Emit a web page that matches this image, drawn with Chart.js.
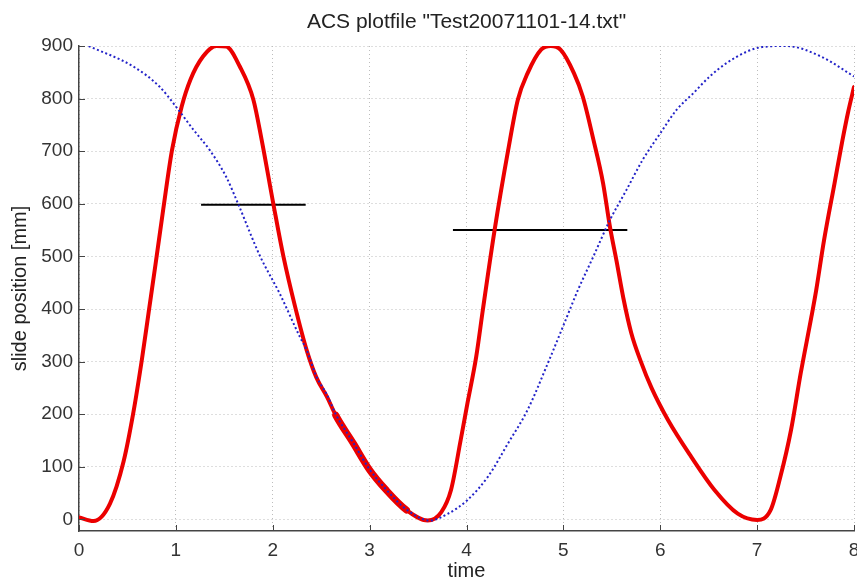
<!DOCTYPE html>
<html>
<head>
<meta charset="utf-8">
<script src="https://cdn.jsdelivr.net/npm/chart.js@4"></script>
<style>
  html, body { margin: 0; padding: 0; background: #fff; }
  #wrap { width: 857px; height: 581px; }
</style>
</head>
<body>
<div id="wrap"><canvas id="plotChart" width="857" height="581"></canvas></div>
<script>
// slide position
const redTime = [0, 0.15, 0.32, 0.46, 0.56, 0.65, 0.72, 0.79, 0.87, 0.96, 1.06, 1.15, 1.28, 1.42, 1.52,
    1.66, 1.80, 1.885, 2.005, 2.11, 2.23, 2.35, 2.45, 2.56, 2.65, 2.83, 3.0, 3.17, 3.38, 3.6, 3.74, 3.84, 3.94,
    4.01, 4.10, 4.17, 4.29, 4.43, 4.53, 4.63, 4.77, 4.87, 4.97, 5.11, 5.2, 5.31, 5.41, 5.48, 5.55, 5.62, 5.70,
    5.80, 5.91, 6.08, 6.32, 6.56, 6.80, 7.0, 7.14, 7.24, 7.35, 7.45, 7.56, 7.61, 7.69, 7.80, 7.88, 7.94, 8.0];
const redPos = [4, -3, 30, 110, 202, 305, 395, 485, 590, 702, 785, 836, 880, 900, 899,
    861, 798, 722, 601, 500, 405, 322, 270, 233, 198, 145, 94, 56, 18, -2, 14, 56, 151,
    221, 309, 400, 550, 702, 798, 848, 893, 900, 893, 848, 804, 722, 639, 557, 490, 420, 355,
    300, 250, 189, 119, 56, 11, -1, 18, 81, 170, 278, 385, 436, 530, 640, 720, 775, 822];

const blueTime = [0.1, 0.56, 0.83, 1.0, 1.18, 1.35, 1.52, 1.64, 1.87, 2.07, 2.28, 2.35, 2.45, 2.56, 2.65,
    2.83, 3.0, 3.17, 3.38, 3.62, 3.81, 4.01, 4.22, 4.43, 4.63, 4.84, 5.01, 5.15, 5.31, 5.48, 5.65, 5.82,
    6.0, 6.17, 6.34, 6.51, 6.68, 6.89, 7.05, 7.3, 7.66, 8.0];
const bluePos = [900, 861, 823, 785, 741, 702, 651, 601, 500, 430, 347, 322, 272, 237, 200,
    146, 95, 57, 19, -2, 11, 37, 81, 145, 208, 297, 373, 436, 500, 569, 626, 684,
    734, 779, 810, 842, 867, 889, 898, 900, 880, 842];

// horizontal marker lines
const mark1Time = [1.26, 2.34];
const mark1Pos = [598, 598];
const mark2Time = [3.86, 5.66];
const mark2Pos = [550, 550];

const xTicks = [0, 1, 2, 3, 4, 5, 6, 7, 8];
const yTicks = [0, 100, 200, 300, 400, 500, 600, 700, 800, 900];

const titleText = 'ACS plotfile "Test20071101-14.txt"';
const xLabel = 'time';
const yLabel = 'slide position [mm]';

function toPoints(xs, ys) {
    return xs.map((x, i) => ({ x: x, y: ys[i] }));
}

const fontFamily = '"Liberation Sans", Arial, Helvetica, sans-serif';
const axisColor = '#444444';

// title centred over the plot area + small inward tick marks
const plotExtras = {
    id: 'plotExtras',
    afterDraw(chart) {
        const ctx = chart.ctx;
        const area = chart.chartArea;
        const xs = chart.scales.x;
        const ys = chart.scales.y;
        ctx.save();
        ctx.strokeStyle = axisColor;
        ctx.lineWidth = 1;
        ctx.beginPath();
        xTicks.forEach(v => {
            const px = Math.round(xs.getPixelForValue(v)) + 0.5;
            ctx.moveTo(px, area.bottom);
            ctx.lineTo(px, area.bottom - 6);
        });
        yTicks.forEach(v => {
            const py = Math.round(ys.getPixelForValue(v)) + 0.5;
            ctx.moveTo(area.left, py);
            ctx.lineTo(area.left + 6, py);
        });
        ctx.stroke();

        ctx.fillStyle = '#222';
        ctx.font = '21px ' + fontFamily;
        ctx.textAlign = 'center';
        ctx.textBaseline = 'middle';
        ctx.fillText(titleText, (area.left + area.right) / 2, 22);
        ctx.restore();
    }
};

const gridOpts = { color: '#bdbdbd', lineWidth: 1, drawTicks: false, tickLength: 0 };
const borderOpts = { display: true, color: axisColor, width: 1.5, dash: [1, 3] };

new Chart(document.getElementById('plotChart').getContext('2d'), {
    type: 'line',
    data: {
        datasets: [
            {
                label: 'blue',
                data: toPoints(blueTime, bluePos),
                borderColor: 'rgb(35, 35, 200)',
                borderWidth: 2,
                borderDash: [2, 2.5],
                pointRadius: 0,
                cubicInterpolationMode: 'monotone',
                fill: false
            },
            {
                label: 'red',
                data: toPoints(redTime, redPos),
                borderColor: 'rgb(235, 0, 0)',
                borderWidth: 4,
                borderCapStyle: 'round',
                borderJoinStyle: 'round',
                pointRadius: 0,
                cubicInterpolationMode: 'monotone',
                fill: false,
                segment: {
                    borderWidth: c => (c.p0.parsed.x >= 2.6 && c.p1.parsed.x <= 3.4) ? 7 : 4
                }
            },
            {
                label: 'mark1',
                data: toPoints(mark1Time, mark1Pos),
                borderColor: '#000',
                borderWidth: 2,
                pointRadius: 0
            },
            {
                label: 'mark2',
                data: toPoints(mark2Time, mark2Pos),
                borderColor: '#000',
                borderWidth: 2,
                pointRadius: 0
            }
        ]
    },
    options: {
        responsive: false,
        animation: false,
        events: [],
        layout: { padding: { top: 46, right: 3, left: 0, bottom: 0 } },
        plugins: {
            legend: { display: false },
            tooltip: { enabled: false },
            title: { display: false }
        },
        scales: {
            x: {
                type: 'linear',
                min: 0,
                max: 8,
                afterBuildTicks: s => { s.ticks = xTicks.map(v => ({ value: v })); },
                afterFit: s => { s.height = 50; s.paddingLeft = 0; s.paddingRight = 0; },
                grid: gridOpts,
                border: borderOpts,
                ticks: {
                    color: '#333',
                    padding: 8,
                    maxRotation: 0,
                    font: { family: fontFamily, size: 19 }
                },
                title: {
                    display: true,
                    text: xLabel,
                    color: '#222',
                    font: { family: fontFamily, size: 20, lineHeight: 1 },
                    padding: { top: 0, bottom: 0 }
                }
            },
            y: {
                type: 'linear',
                min: -22,
                max: 900,
                afterBuildTicks: s => { s.ticks = yTicks.map(v => ({ value: v })); },
                afterFit: s => { s.width = 79; s.paddingTop = 0; s.paddingBottom = 0; },
                grid: gridOpts,
                border: borderOpts,
                ticks: {
                    color: '#333',
                    padding: 6,
                    font: { family: fontFamily, size: 19 }
                },
                title: {
                    display: true,
                    text: yLabel,
                    color: '#222',
                    font: { family: fontFamily, size: 20, lineHeight: 1 },
                    padding: { top: 10, bottom: 0 }
                }
            }
        }
    },
    plugins: [plotExtras]
});
</script>
</body>
</html>
